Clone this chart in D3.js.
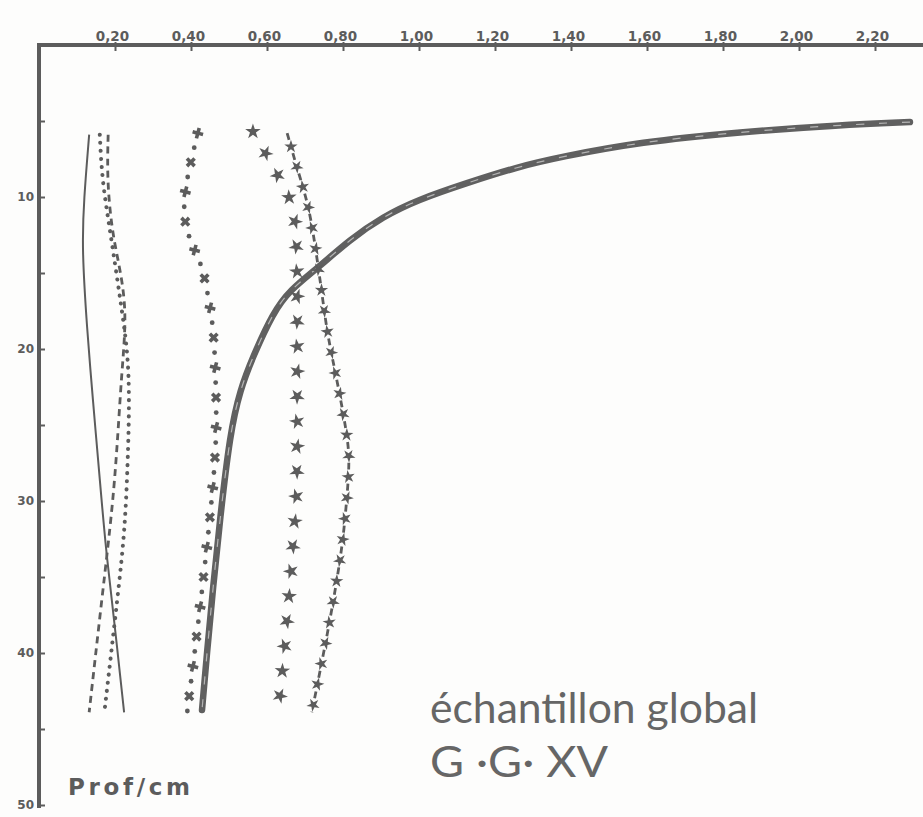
<!DOCTYPE html>
<html>
<head>
<meta charset="utf-8">
<script src="https://cdn.jsdelivr.net/npm/d3@7"></script>
<style>
  html, body { margin: 0; padding: 0; background: #fdfdfc; }
  svg { display: block; }
</style>
</head>
<body>
<svg id="svg" width="923" height="817"></svg>
<script>
// top axis (values) and left axis (depth, cm)
const valueTicks = [0.2, 0.4, 0.6, 0.8, 1.0, 1.2, 1.4, 1.6, 1.8, 2.0, 2.2];
const depthTicks = [5, 10, 15, 20, 25, 30, 35, 40, 45, 50];
const depthLabels = [10, 20, 30, 40, 50];

// thin solid line
const depthSolid = [5.9, 10.2, 13.3, 18.6, 23.4, 28.6, 33.2, 37.2, 43.9];
const valSolid = [0.132, 0.118, 0.113, 0.126, 0.142, 0.160, 0.176, 0.195, 0.224];

// dashed line
const depthDashed = [5.9, 8.9, 12.2, 14.1, 17.4, 21.4, 25.5, 30.1, 36.3, 43.9];
const valDashed = [0.182, 0.179, 0.192, 0.208, 0.232, 0.218, 0.208, 0.195, 0.166, 0.132];

// dotted line
const depthDotted = [5.9, 8.9, 12.2, 17.4, 21.4, 27.3, 31.9, 36.1, 43.9];
const valDotted = [0.160, 0.166, 0.187, 0.218, 0.240, 0.234, 0.226, 0.208, 0.172];

// dots and crosses
const depthCross = [5.8, 7.6, 9.5, 11.5, 13.2, 14.5, 16.1, 18.6, 22.0, 25.5, 29.1, 33.0, 37.0, 40.9, 43.9];
const valCross = [0.418, 0.400, 0.384, 0.379, 0.403, 0.429, 0.442, 0.460, 0.465, 0.468, 0.458, 0.442, 0.424, 0.405, 0.390];

// stars
const depthStar = [5.7, 7.4, 9.7, 10.9, 13.9, 19.0, 26.3, 29.6, 33.0, 38.0, 43.8];
const valStar = [0.563, 0.603, 0.653, 0.674, 0.679, 0.680, 0.679, 0.679, 0.668, 0.653, 0.630];

// dashes and stars
const depthDashStar = [5.8, 8.1, 10.4, 13.0, 16.8, 19.2, 22.0, 25.5, 27.3, 29.9, 32.6, 35.2, 37.8, 40.5, 43.9];
const valDashStar = [0.653, 0.679, 0.708, 0.726, 0.747, 0.760, 0.784, 0.810, 0.818, 0.810, 0.800, 0.784, 0.766, 0.745, 0.718];

// global sample, thick curve
const depthGlobal = [5.07, 5.26, 5.72, 6.38, 7.37, 8.03, 9.08, 10.2, 11.3, 12.8, 14.7, 16.1, 17.6, 20.5, 22.7, 25.5, 31.25, 35.7, 40.0, 43.75];
const valGlobal = [2.292, 2.108, 1.845, 1.582, 1.371, 1.258, 1.126, 0.995, 0.905, 0.818, 0.732, 0.661, 0.616, 0.563, 0.529, 0.503, 0.476, 0.458, 0.442, 0.429];

const ink = '#5c5c5c';
const svg = d3.select('#svg');

const x = d3.scaleLinear().domain([0, 2.2]).range([39, 875]);
const y = d3.scaleLinear().domain([0, 50]).range([45, 805]);

function zip(depths, vals) {
    return depths.map((d, i) => ({ d: d, v: vals[i] }));
}

const line = d3.line()
    .x(p => x(p.v))
    .y(p => y(p.d))
    .curve(d3.curveBasis);

// axes
const topAxis = d3.axisTop(x)
    .tickValues(valueTicks)
    .tickSizeInner(-6)
    .tickSizeOuter(0)
    .tickPadding(4)
    .tickFormat(d => d3.format('.2f')(d).replace('.', ','));

const gTop = svg.append('g').attr('transform', 'translate(0,' + y(0) + ')').call(topAxis);
gTop.select('.domain').remove();
gTop.selectAll('.tick line').attr('stroke', ink).attr('stroke-width', 2).attr('y1', -3);
gTop.selectAll('.tick text')
    .attr('fill', ink)
    .attr('dx', -3)
    .style('font-family', 'DejaVu Sans')
    .style('font-weight', 'bold')
    .style('font-size', '13.5px');

const leftAxis = d3.axisLeft(y)
    .tickValues(depthTicks)
    .tickSizeInner(-6)
    .tickSizeOuter(0)
    .tickPadding(5)
    .tickFormat(d => depthLabels.includes(d) ? d : '');

const gLeft = svg.append('g').attr('transform', 'translate(' + x(0) + ',0)').call(leftAxis);
gLeft.select('.domain').remove();
gLeft.selectAll('.tick line').attr('stroke', ink).attr('stroke-width', 2);
gLeft.selectAll('.tick text')
    .attr('fill', ink)
    .style('font-family', 'DejaVu Sans')
    .style('font-weight', 'bold')
    .style('font-size', '12px');

// axis lines, the top one runs off the page
svg.append('line')
    .attr('x1', x(0) - 2).attr('x2', 923)
    .attr('y1', y(0)).attr('y2', y(0))
    .attr('stroke', ink).attr('stroke-width', 4);
svg.append('line')
    .attr('x1', x(0)).attr('x2', x(0))
    .attr('y1', y(0) - 2).attr('y2', y(50) + 3)
    .attr('stroke', ink).attr('stroke-width', 4);

const plot = svg.append('g').attr('fill', 'none').attr('stroke', ink);

function pointsAlong(node, step, offset) {
    const L = node.getTotalLength();
    const pts = [];
    for (let s = offset; s <= L + 0.5; s += step) {
        pts.push(node.getPointAtLength(Math.min(s, L)));
    }
    return pts;
}

// solid
plot.append('path')
    .attr('d', line(zip(depthSolid, valSolid)))
    .attr('stroke-width', 2);

// dashed
plot.append('path')
    .attr('d', line(zip(depthDashed, valDashed)))
    .attr('stroke-width', 2.8)
    .attr('stroke-dasharray', '7,5');

// dotted
plot.append('path')
    .attr('d', line(zip(depthDotted, valDotted)))
    .attr('stroke-width', 4)
    .attr('stroke-linecap', 'round')
    .attr('stroke-dasharray', '0.1,8');

// dots and crosses
const crossPath = plot.append('path')
    .attr('d', line(zip(depthCross, valCross)))
    .attr('stroke', 'none');
const crossPts = pointsAlong(crossPath.node(), 15, 0);
const cross = d3.symbol().type(d3.symbolCross).size(65);
crossPts.forEach((p, i) => {
    if (i % 2 === 0) {
        svg.append('path')
            .attr('d', cross())
            .attr('fill', ink)
            .attr('transform', 'translate(' + p.x + ',' + p.y + ') rotate(' + ((i / 2) % 2 ? 45 : 15) + ')');
    } else {
        svg.append('circle').attr('cx', p.x).attr('cy', p.y).attr('r', 2.4).attr('fill', ink);
    }
});

// stars
const starPath = plot.append('path')
    .attr('d', line(zip(depthStar, valStar)))
    .attr('stroke', 'none');
const star = d3.symbol().type(d3.symbolStar).size(75);
pointsAlong(starPath.node(), 25, 0).forEach((p, i) => {
    svg.append('path')
        .attr('d', star())
        .attr('fill', ink)
        .attr('transform', 'translate(' + p.x + ',' + p.y + ') rotate(' + (i * 23 % 72) + ')');
});

// dashes and stars
const dsPath = plot.append('path')
    .attr('d', line(zip(depthDashStar, valDashStar)))
    .attr('stroke-width', 2.8)
    .attr('stroke-dasharray', '7,14');
const star2 = d3.symbol().type(d3.symbolStar).size(55);
pointsAlong(dsPath.node(), 21, 14).forEach((p, i) => {
    svg.append('path')
        .attr('d', star2())
        .attr('fill', ink)
        .attr('transform', 'translate(' + p.x + ',' + p.y + ') rotate(' + (i * 31 % 72) + ')');
});

// thick curve
plot.append('path')
    .attr('d', line(zip(depthGlobal, valGlobal)))
    .attr('stroke', '#606060')
    .attr('stroke-width', 6.5)
    .attr('stroke-linecap', 'round');
plot.append('path')
    .attr('d', line(zip(depthGlobal, valGlobal)))
    .attr('stroke', '#d8d8d8')
    .attr('stroke-width', 1.2)
    .attr('stroke-dasharray', '8,15')
    .attr('opacity', 0.7);

// texts
svg.append('text')
    .attr('x', 68).attr('y', 795)
    .attr('fill', ink)
    .attr('textLength', 122)
    .style('font-family', 'DejaVu Sans')
    .style('font-weight', 'bold')
    .style('font-size', '23px')
    .text('Prof/cm');

svg.append('text')
    .attr('x', 430).attr('y', 723)
    .attr('fill', '#666')
    .attr('textLength', 328)
    .attr('lengthAdjust', 'spacingAndGlyphs')
    .style('font-family', 'Lato')
    .style('font-size', '42px')
    .text('échantillon global');

svg.append('text')
    .attr('x', 430).attr('y', 777)
    .attr('fill', '#666')
    .attr('textLength', 178)
    .attr('lengthAdjust', 'spacingAndGlyphs')
    .style('font-family', 'Lato')
    .style('font-size', '42px')
    .text('G ·G· XV');
</script>
</body>
</html>
